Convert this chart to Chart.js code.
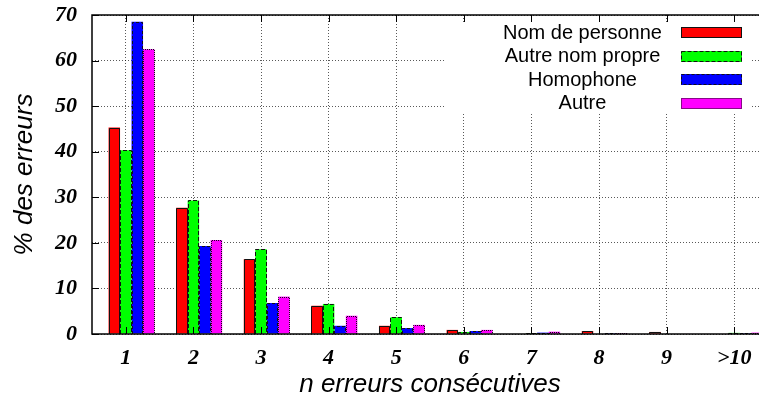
<!DOCTYPE html>
<html>
<head>
<meta charset="utf-8">
<script src="https://cdn.jsdelivr.net/npm/chart.js@4/dist/chart.umd.min.js"></script>
<style>
  html, body { margin: 0; padding: 0; background: #fff; }
  #wrap { width: 759px; height: 401px; overflow: hidden; position: relative; }
  canvas { display: block; }
</style>
</head>
<body>
<div id="wrap"><canvas id="c" width="780" height="401"></canvas></div>
<script>
// ---- data ----
const categories = ['1', '2', '3', '4', '5', '6', '7', '8', '9', '>10'];
const seriesNames = ['Nom de personne', 'Autre nom propre', 'Homophone', 'Autre'];
const nomDePersonne  = [45.3, 27.7, 16.4, 6.2, 1.8, 0.9, 0.0, 0.65, 0.45, 0.0];
const autreNomPropre = [40.3, 29.3, 18.6, 6.6, 3.7, 0.45, 0.2, 0.0, 0.0, 0.25];
const homophone      = [68.5, 19.3, 6.8, 1.8, 1.3, 0.65, 0.3, 0.2, 0.0, 0.2];
const autre          = [62.5, 20.6, 8.2, 4.0, 2.0, 0.9, 0.5, 0.2, 0.1, 0.3];
const yTicks = [0, 10, 20, 30, 40, 50, 60, 70];
const xTitle = 'n erreurs consécutives';
const yTitle = '% des erreurs';

// ---- styles ----
const colors = ['#ff0000', '#00ff00', '#0000ff', '#ff00ff'];
const dashes = [[], [4, 2], [3, 2], [1, 1]];
const tickFont = { family: "'Liberation Serif', 'Times New Roman', serif", size: 22, style: 'italic', weight: 'bold' };
const titleFont = { family: "'Liberation Sans', Arial, sans-serif", size: 26, style: 'italic' };

const seriesData = [nomDePersonne, autreNomPropre, homophone, autre];
const datasets = [{
  label: '', data: categories.map(() => 0), backgroundColor: 'rgba(0,0,0,0)', borderWidth: 0, spacer: true
}].concat(seriesData.map((d, i) => ({
  label: seriesNames[i], data: d, backgroundColor: colors[i], borderWidth: 0, dash: dashes[i]
})));

const framePlugin = {
  id: 'frame',
  afterDatasetsDraw(chart) {
    const ctx = chart.ctx;
    ctx.save();
    chart.data.datasets.forEach((ds, di) => {
      if (ds.spacer) return;
      const meta = chart.getDatasetMeta(di);
      meta.data.forEach(el => {
        const p = el.getProps(['x', 'y', 'base', 'width'], true);
        if (Math.abs(p.base - p.y) < 0.3) return;
        const l = Math.round(p.x - p.width / 2) + 0.5, r = Math.round(p.x + p.width / 2) - 0.5;
        const t = Math.round(p.y) + 0.5, b = Math.round(p.base);
        ctx.setLineDash(ds.dash);
        ctx.strokeStyle = '#111';
        ctx.lineWidth = 1;
        ctx.beginPath();
        ctx.moveTo(l, b); ctx.lineTo(l, t); ctx.lineTo(r, t); ctx.lineTo(r, b);
        ctx.stroke();
      });
    });
    ctx.restore();
  },
  afterDraw(chart) {
    const ctx = chart.ctx;
    const a = chart.chartArea;
    ctx.save();
    // legend
    ctx.fillStyle = '#fff';
    ctx.fillRect(445, 23, 306, 90);
    ctx.font = "20px 'Liberation Sans', Arial, sans-serif";
    ctx.textAlign = 'center';
    ctx.textBaseline = 'alphabetic';
    const rows = [38.5, 62, 85.5, 109];
    seriesNames.forEach((n, i) => {
      ctx.fillStyle = '#000';
      ctx.fillText(n, 582.5, rows[i]);
      const bx = 681, by = Math.round(rows[i] - 11.5), bw = 61, bh = 11;
      ctx.fillStyle = colors[i];
      ctx.fillRect(bx, by, bw, bh);
      ctx.setLineDash(dashes[i]);
      ctx.strokeStyle = '#111';
      ctx.lineWidth = 1;
      ctx.strokeRect(bx + 0.5, by + 0.5, bw - 1, bh - 1);
    });
    ctx.setLineDash([]);
    // inward ticks
    ctx.strokeStyle = '#000';
    ctx.lineWidth = 1;
    const ys = chart.scales.y, xs = chart.scales.x;
    yTicks.forEach(v => {
      const py = Math.round(ys.getPixelForValue(v)) + 0.5;
      ctx.beginPath(); ctx.moveTo(a.left, py); ctx.lineTo(a.left + 7, py); ctx.stroke();
      ctx.beginPath(); ctx.moveTo(a.right, py); ctx.lineTo(a.right - 7, py); ctx.stroke();
    });
    categories.forEach((c, i) => {
      const px = Math.round(xs.getPixelForValue(i)) + 0.5;
      ctx.beginPath(); ctx.moveTo(px, a.top); ctx.lineTo(px, a.top + 7); ctx.stroke();
      ctx.beginPath(); ctx.moveTo(px, a.bottom); ctx.lineTo(px, a.bottom - 7); ctx.stroke();
    });
    // frame
    ctx.lineWidth = 1.5;
    ctx.strokeRect(a.left, a.top, a.right - a.left, a.bottom - a.top);
    ctx.restore();
  }
};

new Chart(document.getElementById('c'), {
  type: 'bar',
  data: { labels: categories, datasets },
  options: {
    responsive: false,
    animation: false,
    devicePixelRatio: 1,
    layout: { padding: { top: 15, right: 12, left: 0, bottom: 0 } },
    datasets: { bar: { categoryPercentage: 0.85, barPercentage: 1.0 } },
    plugins: { legend: { display: false }, tooltip: { enabled: false } },
    scales: {
      x: {
        type: 'category',
        offset: true,
        grid: { offset: false, color: 'rgba(0,0,0,0.65)', lineWidth: 1, drawTicks: false },
        border: { display: false, dash: [1, 2] },
        ticks: { font: tickFont, color: '#000', padding: 11, maxRotation: 0, autoSkip: false },
        title: { display: true, text: xTitle, font: titleFont, color: '#000', padding: { top: 0, bottom: 1 } },
        afterFit(s) { s.height = 67; s.paddingLeft = 0; s.paddingRight = 0; }
      },
      y: {
        min: 0, max: 70,
        afterBuildTicks(s) { s.ticks = yTicks.map(v => ({ value: v })); },
        grid: { color: 'rgba(0,0,0,0.65)', lineWidth: 1, drawTicks: false },
        border: { display: false, dash: [1, 2] },
        ticks: { font: tickFont, color: '#000', padding: 15 },
        title: { display: true, text: yTitle, font: titleFont, color: '#000', padding: { top: 9, bottom: 0 } },
        afterFit(s) { s.width = 92; s.paddingTop = 0; s.paddingBottom = 0; }
      }
    }
  },
  plugins: [framePlugin]
});
</script>
</body>
</html>
